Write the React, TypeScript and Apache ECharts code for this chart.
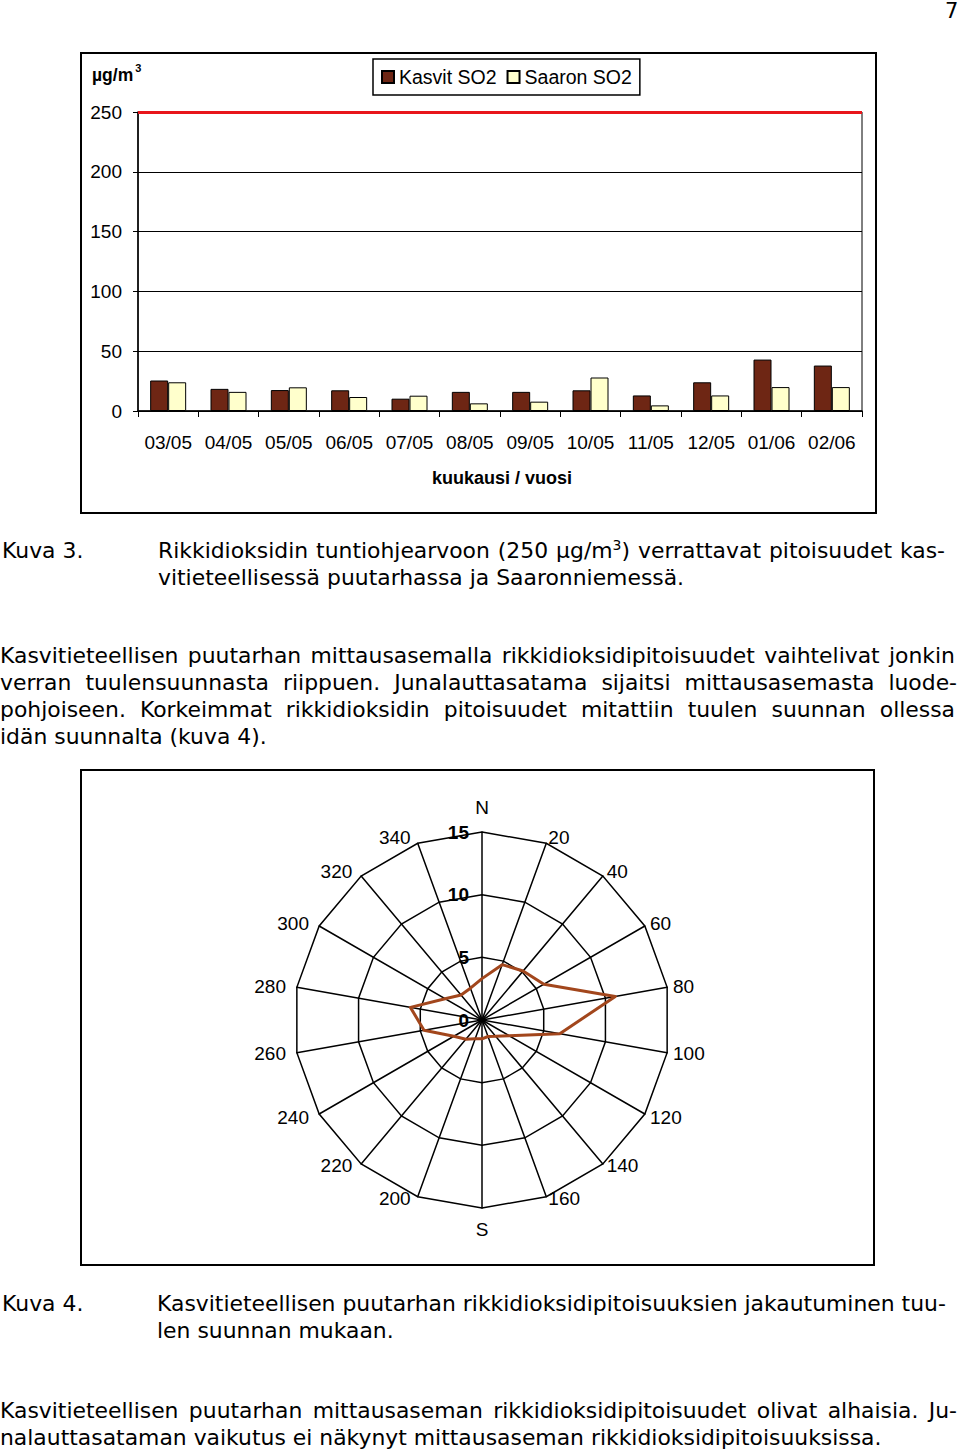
import React, { useEffect, useRef } from "react";
import * as echarts from "echarts";

// ---- Data: Figure 3 (monthly max hourly SO2, µg/m3) ----
const months = ["03/05", "04/05", "05/05", "06/05", "07/05", "08/05", "09/05", "10/05", "11/05", "12/05", "01/06", "02/06"];
const kasvitSO2 = [25.5, 18.5, 17.5, 17.3, 10.3, 16, 16, 17.3, 13, 24, 43, 38];
const saaronSO2 = [24, 16, 19.8, 11.7, 12.8, 6.4, 7.8, 28, 4.7, 13, 20, 20];
const yTicks = { min: 0, max: 250, interval: 50 };
const guideValue = 250;

// ---- Data: Figure 4 (SO2 by wind direction) ----
const directions = [0, 20, 40, 60, 80, 100, 120, 140, 160, 180, 200, 220, 240, 260, 280, 300, 320, 340];
const directionLabels = ["N", "20", "40", "60", "80", "100", "120", "140", "160", "S", "200", "220", "240", "260", "280", "300", "320", "340"];
const so2ByDirection = [3.3, 4.7, 5.1, 5.7, 10.8, 6.3, 2.5, 1.7, 1.4, 1.5, 1.6, 2.0, 2.6, 4.7, 5.8, 3.4, 2.6, 2.7];
const radarMax = 15;
const radarStep = 5;

const FONT = "'Liberation Sans', Arial, sans-serif";
const BODY = "'DejaVu Sans', Verdana, sans-serif";

function BarChart() {
  const ref = useRef<HTMLDivElement>(null);
  useEffect(() => {
    const chart = echarts.init(ref.current!, null, { renderer: "svg" });
    chart.setOption({
      animation: false,
      textStyle: { fontFamily: FONT, color: "#000" },
      grid: { left: 56, right: 13, top: 58, bottom: 101, show: true, borderColor: "#000", borderWidth: 1, backgroundColor: "transparent" },
      legend: {
        left: 291,
        top: 5,
        icon: "rect",
        itemWidth: 12,
        itemHeight: 12,
        itemGap: 10,
        padding: [8, 8, 8, 8],
        borderColor: "#000",
        borderWidth: 1.5,
        textStyle: { fontSize: 19.5, color: "#000", fontFamily: FONT },
        data: ["Kasvit SO2", "Saaron SO2"],
      },
      xAxis: {
        type: "category",
        data: months,
        axisLine: { lineStyle: { color: "#000", width: 1.5 } },
        axisTick: { show: true, length: 6, interval: 0, lineStyle: { color: "#000", width: 1 } },
        axisLabel: { fontSize: 19, margin: 22, color: "#000", interval: 0 },
        name: "kuukausi / vuosi",
        nameLocation: "middle",
        nameGap: 58,
        nameTextStyle: { fontWeight: "bold", fontSize: 18, color: "#000", padding: [0, 0, 0, 4] },
      },
      yAxis: {
        type: "value",
        min: yTicks.min,
        max: yTicks.max,
        interval: yTicks.interval,
        axisLine: { show: true, lineStyle: { color: "#000", width: 1.5 } },
        axisTick: { show: true, length: 5, lineStyle: { color: "#000" } },
        axisLabel: { fontSize: 19, margin: 16, color: "#000" },
        splitLine: { lineStyle: { color: "#000", width: 1 } },
      },
      series: [
        {
          type: "bar",
          name: "Kasvit SO2",
          data: kasvitSO2,
          barWidth: 18,
          barGap: "0%",
          itemStyle: { color: "#6E2614", borderColor: "#000", borderWidth: 1 },
          markLine: {
            silent: true,
            symbol: "none",
            label: { show: false },
            lineStyle: { color: "#E8161B", width: 3, type: "solid" },
            data: [{ yAxis: guideValue }],
          },
        },
        {
          type: "bar",
          name: "Saaron SO2",
          data: saaronSO2,
          barWidth: 18,
          barGap: "0%",
          itemStyle: { color: "#FFFFCC", borderColor: "#000", borderWidth: 1 },
        },
      ],
      graphic: [
        {
          type: "text",
          left: 10,
          top: 8,
          style: {
            text: "{a|µg/m}{b|3}",
            rich: {
              a: { fontSize: 17.5, fontWeight: "bold", fontFamily: FONT, fill: "#000", verticalAlign: "bottom", lineHeight: 22 },
              b: { fontSize: 11, fontWeight: "bold", fontFamily: FONT, fill: "#000", verticalAlign: "top", lineHeight: 22, padding: [0, 0, 10, 2] },
            },
          },
        },
      ],
    });
    return () => chart.dispose();
  }, []);
  return <div ref={ref} style={{ width: 793, height: 458 }} />;
}

function RadarChart() {
  const ref = useRef<HTMLDivElement>(null);
  useEffect(() => {
    const chart = echarts.init(ref.current!, null, { renderer: "svg" });
    // ECharts radar runs counter-clockwise: reverse to get compass (clockwise) order
    const order = directions.map((_, i) => (directions.length - i) % directions.length);
    const indicator = order.map((i) => ({ name: directionLabels[i], min: 0, max: radarMax }));
    const values = order.map((i) => so2ByDirection[i]);
    const center = [400, 249];
    const radius = 188;
    const leftUpper = ["280", "300", "320", "340", "240"];
    const leftLower = ["200", "220"];
    const rightLower = ["140", "160"];
    chart.setOption({
      animation: false,
      textStyle: { fontFamily: FONT, color: "#000" },
      radar: {
        center,
        radius,
        startAngle: 90,
        shape: "polygon",
        splitNumber: radarMax / radarStep,
        indicator,
        nameGap: 6,
        axisName: {
          color: "#000",
          fontSize: 19,
          fontFamily: FONT,
          formatter: (name: string) => {
            if (name === "N") return "{n|N}";
            if (name === "S") return "{s|S}";
            if (leftUpper.indexOf(name) >= 0 || name === "260") return "{l|" + name + "}";
            if (leftLower.indexOf(name) >= 0) return "{ll|" + name + "}";
            if (rightLower.indexOf(name) >= 0) return "{rl|" + name + "}";
            return name;
          },
          rich: {
            n: { fontSize: 19, color: "#000", fontFamily: FONT, padding: [0, 0, 9, 0] },
            s: { fontSize: 19, color: "#000", fontFamily: FONT, padding: [6, 0, 0, 0] },
            l: { fontSize: 19, color: "#000", fontFamily: FONT, padding: [0, 5, 0, 0] },
            ll: { fontSize: 19, color: "#000", fontFamily: FONT, padding: [0, 5, 7, 0] },
            rl: { fontSize: 19, color: "#000", fontFamily: FONT, padding: [0, 0, 7, 0] },
          },
        },
        splitLine: { lineStyle: { color: "#000", width: 1.5 } },
        splitArea: { show: false },
        axisLine: { lineStyle: { color: "#000", width: 1.5 } },
        axisTick: { show: false },
        axisLabel: { show: false },
      },
      polar: { center, radius },
      angleAxis: { type: "value", min: 0, max: 360, startAngle: 90, show: false },
      radiusAxis: {
        type: "value",
        min: 0,
        max: radarMax,
        interval: radarStep,
        axisLine: { show: false },
        axisTick: { show: false },
        splitLine: { show: false },
        axisLabel: { fontSize: 19, fontWeight: "bold", color: "#000", margin: 13, fontFamily: FONT },
        z: 10,
      },
      series: [
        {
          type: "radar",
          symbol: "none",
          lineStyle: { color: "#A2461C", width: 3 },
          data: [{ value: values, name: "SO2" }],
          z: 5,
        },
      ],
    });
    return () => chart.dispose();
  }, []);
  return <div ref={ref} style={{ width: 791, height: 493 }} />;
}

const lineBase: React.CSSProperties = {
  position: "absolute",
  fontFamily: BODY,
  fontSize: 21.9,
  lineHeight: "27px",
  color: "#000",
  whiteSpace: "nowrap",
};

function Line({ x, y, w, text, justify }: { x: number; y: number; w?: number; text: React.ReactNode; justify?: boolean }) {
  const style: React.CSSProperties = { ...lineBase, left: x, top: y - 13 };
  if (justify && w) {
    style.width = w;
    style.textAlign = "justify";
    (style as any).textAlignLast = "justify";
  }
  return <div style={style}>{text}</div>;
}

export default function App() {
  return (
    <div style={{ position: "absolute", left: 0, top: 0, width: 960, height: 1450, background: "#fff", overflow: "hidden" }}>
      <div style={{ ...lineBase, left: 945, top: 0, lineHeight: "22px", fontSize: 21 }}>7</div>

      <div style={{ position: "absolute", left: 80, top: 52, width: 797, height: 462, border: "2px solid #000", boxSizing: "border-box" }}>
        <BarChart />
      </div>

      <Line x={2} y={550} text="Kuva 3." />
      <Line
        x={158}
        y={550}
        w={787}
        justify
        text={
          <>
            Rikkidioksidin tuntiohjearvoon (250 µg/m
            <span style={{ fontSize: 14, position: "relative", top: -8 }}>3</span>) verrattavat pitoisuudet kas-
          </>
        }
      />
      <Line x={158} y={577} text="vitieteellisessä puutarhassa ja Saaronniemessä." />

      <Line x={0} y={655} w={955} justify text="Kasvitieteellisen puutarhan mittausasemalla rikkidioksidipitoisuudet vaihtelivat jonkin" />
      <Line x={0} y={682} w={957} justify text="verran tuulensuunnasta riippuen. Junalauttasatama sijaitsi mittausasemasta luode-" />
      <Line x={0} y={709} w={955} justify text="pohjoiseen. Korkeimmat rikkidioksidin pitoisuudet mitattiin tuulen suunnan ollessa" />
      <Line x={0} y={736} text="idän suunnalta (kuva 4)." />

      <div style={{ position: "absolute", left: 80, top: 769, width: 795, height: 497, border: "2px solid #000", boxSizing: "border-box" }}>
        <RadarChart />
      </div>

      <Line x={2} y={1303} text="Kuva 4." />
      <Line x={157} y={1303} w={788} justify text="Kasvitieteellisen puutarhan rikkidioksidipitoisuuksien jakautuminen tuu-" />
      <Line x={157} y={1330} text="len suunnan mukaan." />

      <Line x={0} y={1410} w={957} justify text="Kasvitieteellisen puutarhan mittausaseman rikkidioksidipitoisuudet olivat alhaisia. Ju-" />
      <Line x={0} y={1437} text="nalauttasataman vaikutus ei näkynyt mittausaseman rikkidioksidipitoisuuksissa." />
    </div>
  );
}
